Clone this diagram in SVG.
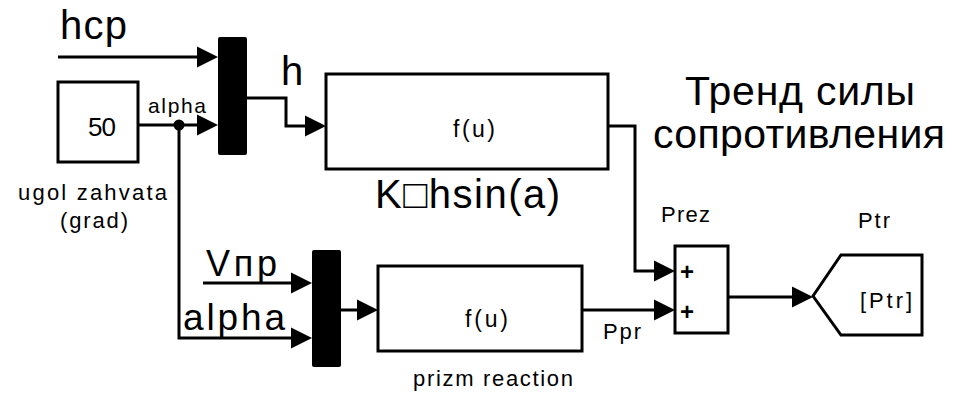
<svg xmlns="http://www.w3.org/2000/svg" width="958" height="398" viewBox="0 0 958 398">
<defs>
<style>
text{font-family:"Liberation Sans",Arial,sans-serif;fill:#000}
.blk{fill:#fff;stroke:#000;stroke-width:3}
.mux{fill:#000;stroke:none}
.ln{fill:none;stroke:#000;stroke-width:3}
.big{font-size:40px}
.sm{font-size:22px}
</style>
<marker id="ah" markerUnits="userSpaceOnUse" markerWidth="22" markerHeight="22" refX="0" refY="10.5" orient="auto" overflow="visible">
<path d="M0,0 L21,10.5 L0,21 Z" fill="#000"/>
</marker>
</defs>
<rect width="958" height="398" fill="#fff"/>

<g id="connectors">
<path class="ln" d="M58,57 H197" marker-end="url(#ah)"/>
<path class="ln" d="M138,125 H197" marker-end="url(#ah)"/>
<path class="ln" d="M179,125 V338 H291" marker-end="url(#ah)"/>
<circle cx="179" cy="125" r="5.5" fill="#000"/>
<path class="ln" d="M203,283 H291" marker-end="url(#ah)"/>
<path class="ln" d="M247,98 H286 V126 H305" marker-end="url(#ah)"/>
<path class="ln" d="M608,126 H635 V271 H654" marker-end="url(#ah)"/>
<path class="ln" d="M341,310 H357" marker-end="url(#ah)"/>
<path class="ln" d="M582,310 H654" marker-end="url(#ah)"/>
<path class="ln" d="M728,297 H792" marker-end="url(#ah)"/>
</g>

<g id="labels">
<text class="big" x="60" y="39" textLength="67" lengthAdjust="spacing">hcp</text>
<text class="big" x="281" y="85">h</text>
<text x="685" y="105" font-size="41" textLength="230" lengthAdjust="spacing">Тренд силы</text>
<text x="653" y="148" font-size="41" textLength="292" lengthAdjust="spacing">сопротивления</text>
<text class="big" x="375" y="208" textLength="185" lengthAdjust="spacing">K□hsin(a)</text>
<text x="206" y="276" font-size="36" textLength="71" lengthAdjust="spacing">Vпр</text>
<text x="183" y="330" font-size="37" textLength="102" lengthAdjust="spacing">alpha</text>
<text x="148" y="113" font-size="21" textLength="58" lengthAdjust="spacing">alpha</text>
<text x="603" y="339" font-size="22" textLength="38" lengthAdjust="spacing">Ppr</text>
</g>

<g id="const">
<rect class="blk" x="58" y="82" width="80" height="80"/>
<text x="88" y="136" font-size="26" textLength="28" lengthAdjust="spacing">50</text>
<text class="sm" x="18" y="200" textLength="149" lengthAdjust="spacing">ugol zahvata</text>
<text class="sm" x="60" y="228" textLength="68" lengthAdjust="spacing">(grad)</text>
</g>

<g id="mux1">
<rect class="mux" x="218" y="37" width="29" height="118" rx="2"/>
</g>

<g id="mux2">
<rect class="mux" x="312" y="250" width="29" height="117" rx="2"/>
</g>

<g id="fcn1">
<rect class="blk" x="326" y="74" width="282" height="95"/>
<text x="453" y="137" font-size="23" textLength="42" lengthAdjust="spacing">f(u)</text>
</g>

<g id="fcn2">
<rect class="blk" x="378" y="266" width="204" height="85"/>
<text x="465" y="327" font-size="23" textLength="43" lengthAdjust="spacing">f(u)</text>
<text class="sm" x="413" y="386" textLength="160" lengthAdjust="spacing">prizm reaction</text>
</g>

<g id="sum">
<rect class="blk" x="675" y="246" width="53" height="87"/>
<text x="687" y="280" font-size="24" font-weight="bold" text-anchor="middle">+</text>
<text x="687" y="320" font-size="24" font-weight="bold" text-anchor="middle">+</text>
<text x="661" y="222" font-size="22" textLength="49" lengthAdjust="spacing">Prez</text>
</g>

<g id="goto">
<polygon class="blk" points="813,296 841,255 922,255 922,335 841,335"/>
<text x="860" y="308" font-size="22" textLength="52" lengthAdjust="spacing">[Ptr]</text>
<text x="858" y="228" font-size="22" textLength="32" lengthAdjust="spacing">Ptr</text>
</g>
</svg>
